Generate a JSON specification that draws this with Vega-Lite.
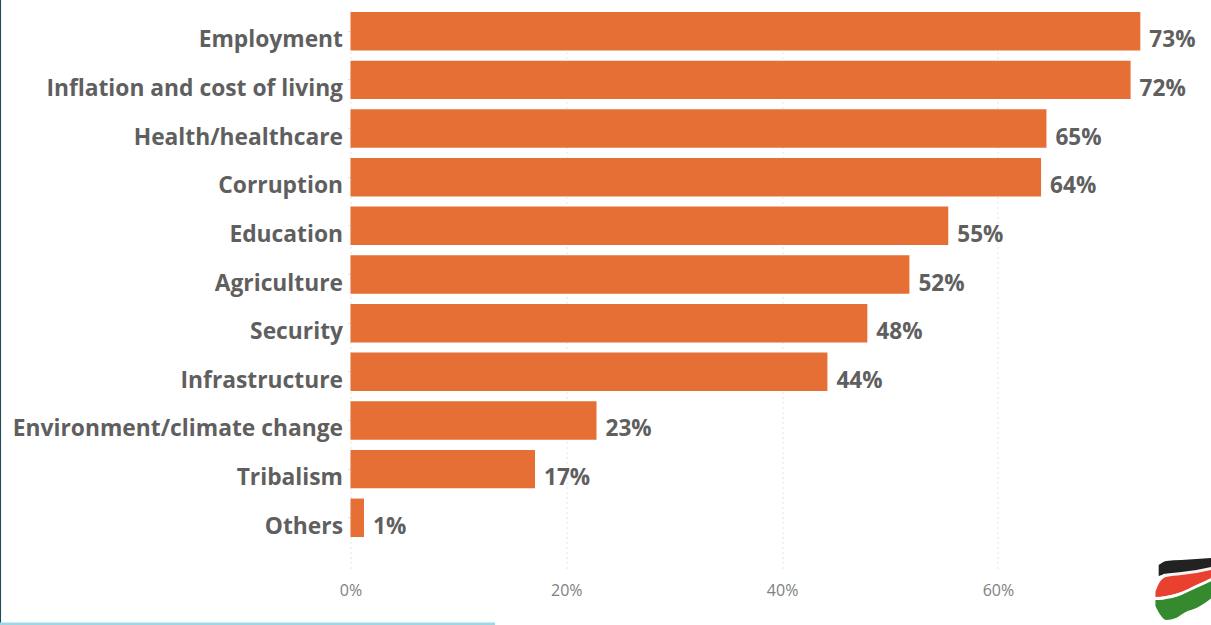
{"$schema":"https://vega.github.io/schema/vega-lite/v6.json","autosize":{"type":"none"},"width":860.5,"height":580,"padding":{"left":350.5,"top":0,"right":0,"bottom":45},"background":"white","view":{"stroke":null},"config":{"font":"Open Sans"},"datasets":{"bars":[{"topic":"Employment","value":73.2,"label":"73%"},{"topic":"Inflation and cost of living","value":72.3,"label":"72%"},{"topic":"Health/healthcare","value":64.5,"label":"65%"},{"topic":"Corruption","value":64,"label":"64%"},{"topic":"Education","value":55.4,"label":"55%"},{"topic":"Agriculture","value":51.8,"label":"52%"},{"topic":"Security","value":47.9,"label":"48%"},{"topic":"Infrastructure","value":44.2,"label":"44%"},{"topic":"Environment/climate change","value":22.8,"label":"23%"},{"topic":"Tribalism","value":17.1,"label":"17%"},{"topic":"Others","value":1.25,"label":"1%"}],"flag":[{"s":"black","x":74.9,"top":565,"bot":576},{"s":"black","x":75.6,"top":561,"bot":574},{"s":"black","x":77,"top":560,"bot":573},{"s":"black","x":78.4,"top":559,"bot":571},{"s":"black","x":79.8,"top":558,"bot":568},{"s":"white1","x":75.3,"top":574,"bot":578},{"s":"white1","x":77,"top":572,"bot":575},{"s":"white1","x":78.4,"top":570,"bot":573},{"s":"white1","x":79.8,"top":567,"bot":570},{"s":"red","x":74.6,"top":592,"bot":597},{"s":"red","x":75,"top":582,"bot":597},{"s":"red","x":75.6,"top":577,"bot":596},{"s":"red","x":77,"top":575,"bot":592},{"s":"red","x":78.4,"top":573,"bot":585},{"s":"red","x":79.8,"top":570,"bot":578},{"s":"white2","x":74.6,"top":597,"bot":600},{"s":"white2","x":75.6,"top":596,"bot":599},{"s":"white2","x":77,"top":592,"bot":595},{"s":"white2","x":78.4,"top":585,"bot":588},{"s":"white2","x":79.8,"top":578,"bot":581},{"s":"green","x":74.6,"top":600,"bot":606},{"s":"green","x":75,"top":600,"bot":614},{"s":"green","x":75.6,"top":599,"bot":620},{"s":"green","x":76.5,"top":597,"bot":618},{"s":"green","x":77.4,"top":593,"bot":612},{"s":"green","x":78.4,"top":588,"bot":608},{"s":"green","x":79.8,"top":581,"bot":598}],"frame":[{"part":"left","x":-32.48,"x2":-32.48,"y":0,"y2":625},{"part":"bottom","x":-32.5,"x2":13.4,"y":624,"y2":624}]},"encoding":{"x":{"field":"value","type":"quantitative","scale":{"domain":[0,79.75],"nice":false,"zero":false},"axis":{"values":[0,20,40,60],"labelExpr":"datum.value + '%'","title":null,"domain":false,"ticks":false,"grid":true,"gridColor":"#c8c8c8","gridDash":[1,4],"labelFlush":false,"labelFont":"Open Sans","labelFontSize":16,"labelColor":"#808080","labelPadding":2}}},"layer":[{"data":{"name":"bars"},"mark":{"type":"bar","color":"#e66f35"},"encoding":{"y":{"field":"topic","type":"nominal","sort":null,"scale":{"type":"band","range":[12,537],"paddingInner":0.21,"paddingOuter":0},"axis":{"title":null,"domain":false,"tickColor":"#e3e3e3","tickSize":3,"labelOffset":9,"labelPadding":5,"labelFont":"Open Sans","labelFontWeight":"bold","labelFontSize":22.8,"labelColor":"#5f5f5f","labelLimit":400}}}},{"data":{"name":"bars"},"mark":{"type":"text","align":"left","baseline":"middle","dx":9,"dy":9,"font":"Open Sans","fontWeight":"bold","fontSize":22.6,"color":"#5f5f5f"},"encoding":{"y":{"field":"topic","type":"nominal","sort":null,"scale":{"type":"band","range":[12,537],"paddingInner":0.21,"paddingOuter":0},"axis":null},"text":{"field":"label","type":"nominal"}}},{"data":{"name":"flag"},"mark":{"type":"area","clip":false,"interpolate":"monotone"},"encoding":{"x":{"field":"x","type":"quantitative"},"y":{"field":"top","type":"quantitative","stack":null,"scale":{"domain":[0,625],"range":[0,625],"nice":false,"zero":false},"axis":null},"y2":{"field":"bot"},"detail":{"field":"s"},"color":{"field":"s","type":"nominal","legend":null,"scale":{"domain":["black","white1","red","white2","green"],"range":["#222222","#f4f4f4","#e8412f","#ffffff","#35892f"]}}}},{"data":{"name":"frame"},"mark":{"type":"rule","clip":false},"encoding":{"x":{"field":"x","type":"quantitative"},"x2":{"field":"x2"},"y":{"field":"y","type":"quantitative","scale":{"domain":[0,625],"range":[0,625],"nice":false,"zero":false},"axis":null},"y2":{"field":"y2"},"color":{"field":"part","type":"nominal","legend":null,"scale":{"domain":["left","bottom"],"range":["#1d4b5a","#9bd8e6"]}},"strokeWidth":{"field":"part","type":"nominal","legend":null,"scale":{"domain":["left","bottom"],"range":[2,3]}}}}],"resolve":{"scale":{"y":"independent","color":"independent"}}}
